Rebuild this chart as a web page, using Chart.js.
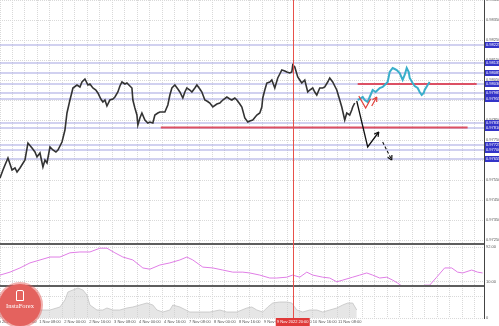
<!DOCTYPE html>
<html><head><meta charset="utf-8">
<script src="https://cdn.jsdelivr.net/npm/chart.js@4.4.0/dist/chart.umd.min.js"></script>
<style>
html,body{margin:0;padding:0;background:#fff;}
#wrap{position:relative;width:499px;height:326px;overflow:hidden;}
#c{position:absolute;left:0;top:0;}
.logo{position:absolute;left:-1px;top:284px;width:42px;height:42px;border-radius:50%;background:#e4625e;box-shadow:0 0 0 2px rgba(228,98,94,0.5);color:#fff;font-family:'Liberation Serif',serif;}
.logo .ic{position:absolute;left:17px;top:6px;width:6px;height:9px;border:1px solid #fff;border-radius:2px 2px 0 0;}
.logo .t{position:absolute;left:0;top:18px;width:42px;text-align:center;font-size:6.5px;letter-spacing:0;}
</style></head><body>
<div id="wrap"><canvas id="c" width="499" height="326"></canvas>
<div class="logo"><div class="ic"></div><div class="t">InstaForex</div></div></div>
<script>
// ---- data (time in trading hours from 31 Oct 00:00, price in CHF) ----
const xTickLabels = ['31 Oct 2022','31 Oct 16:00','1 Nov 08:00','2 Nov 00:00','2 Nov 16:00','3 Nov 08:00','4 Nov 00:00','4 Nov 16:00','7 Nov 08:00','8 Nov 00:00','8 Nov 16:00','9 Nov 08:00','10 Nov 00:00','10 Nov 16:00','11 Nov 08:00'];
const priceHours = [0,1.9,3.2,5.1,7.7,9.6,10.9,12.8,16,17.9,20.5,22.4,23.7,25.6,27.5,28.8,30.1,32,33.9,35.8,37.1,39.7,41.6,42.9,44.8,46.1,46.7,49.3,51.2,52.5,54.4,56.3,57.6,59.5,61.4,62.7,64.6,65.9,67.2,68.5,70.4,72.3,73.6,75.5,76.8,78.1,80,81.3,83.2,84.5,85.1,86.4,87.7,88.3,89.6,90.9,92.8,94.7,96,97.9,99.2,101.1,102.4,105.6,107.5,108.8,110.1,112,113.9,115.2,117.1,118.4,119.7,121.6,122.9,124.8,126.1,128,129.3,131.2,132.5,134.4,136.3,138.9,140.8,142.7,145.3,147.2,148.5,150.4,151.7,153.6,154.9,156.8,158.7,160,161.9,164.5,166.4,167.7,168.3,169.6,170.9,172.8,174.1,176,177.9,179.2,180.5,182.4,183.7,185.6,186.9,187.5,188.8,190.7,192,193.3,195.2,197.1,198.4,200.3,201.6,202.9,204.8,206.7,208,209.9,211.2,213.1,214.4,215.7,217.6,218.9,220.8,222.1,224,225.3,225.9,227.2];
const priceValues = [0.97560,0.97600,0.97625,0.97660,0.97600,0.97610,0.97590,0.97610,0.97650,0.97735,0.97710,0.97690,0.97665,0.97685,0.97615,0.97650,0.97635,0.97715,0.97700,0.97690,0.97700,0.97740,0.97800,0.97885,0.97950,0.97990,0.98010,0.98025,0.98015,0.98040,0.98055,0.98025,0.98030,0.98010,0.98000,0.97985,0.97955,0.97940,0.97950,0.97920,0.97950,0.97955,0.97965,0.97990,0.98020,0.98040,0.98030,0.98035,0.98020,0.98010,0.97950,0.97910,0.97875,0.97825,0.97860,0.97885,0.97850,0.97835,0.97840,0.97835,0.97875,0.97885,0.97890,0.97890,0.97925,0.97975,0.98010,0.98025,0.98005,0.97990,0.97960,0.97990,0.98010,0.98000,0.97990,0.98010,0.98025,0.98005,0.97990,0.97950,0.97945,0.97935,0.97915,0.97930,0.97935,0.97950,0.97965,0.97955,0.97950,0.97960,0.97950,0.97930,0.97915,0.97860,0.97840,0.97845,0.97850,0.97875,0.97885,0.97915,0.97960,0.98000,0.98035,0.98040,0.98050,0.98010,0.98060,0.98080,0.98100,0.98095,0.98090,0.98085,0.98090,0.98125,0.98115,0.98065,0.98050,0.98035,0.98050,0.97990,0.98000,0.98010,0.97990,0.97975,0.98010,0.98010,0.98015,0.98040,0.98060,0.98040,0.98020,0.98000,0.97950,0.97915,0.97850,0.97885,0.97875,0.97900,0.97915,0.97935];
const afterHours = [229.1,230.4,232.3,233.6,235.5,236.8,238.7,240.6,243.2,245.1,246.4,248.3,249.6,251.5,252.8,254.1,256,257.9,259.2,260.5,261.8,262.4,264.3,265.6,267.5,268.8,270.1,271.4,272,273.9,275.2];
const afterValues = [0.97950,0.97955,0.97965,0.97950,0.97940,0.97965,0.98000,0.97990,0.98010,0.98015,0.98025,0.98040,0.98090,0.98110,0.98105,0.98100,0.98085,0.98050,0.98075,0.98110,0.98090,0.98060,0.98035,0.98020,0.98010,0.97990,0.97975,0.97985,0.98000,0.98025,0.98040];
const levelValues = [0.98225,0.98135,0.98085,0.98030,0.97985,0.97955,0.97835,0.97810,0.97725,0.97700,0.97655];
const redLevelValues = [0.98030,0.97812];
const redLevelFrom = [229.1,103.0];
const redLevelTo = [305.3,299.5];
const arrowMainHours = [228.5,235.5,242.6];
const arrowMainValues = [0.97945,0.97715,0.97790];
const arrowDashHours = [245.1,250.9];
const arrowDashValues = [0.97740,0.97650];
const redMarkHours = [229.8,234.2,237.4];
const redMarkValues = [0.97970,0.97910,0.97955];
const redMark2Hours = [238.1,241.3];
const redMark2Values = [0.97920,0.97965];
const indHours = [0,6.4,12.8,19.2,25.6,32,38.4,44.8,51.2,57.6,64,68.5,73.6,78.7,85.1,91.5,96,102.4,108.8,115.2,119.7,123.5,129.9,136.3,142.7,149.1,155.5,160,166.4,172.8,177.3,183.7,187.5,192,196.5,200.3,206.7,211.2,215.7,219.5,225.9,230.4,234.9,238.7,243.2,247.7,251.5,254.7,257.3,264,270.7,272,275.2,279.7,284.8,289.3,293.1,296.3,302.1,305.9,309.1];
const indValues = [26,33,43,55,62,69,69,79,81,81,90,90,79,69,62,43,40,50,55,62,69,62,45,43,38,33,33,31,26,19,19,21,26,21,33,26,21,19,10,14,21,26,31,26,19,21,14,7,0,null,0,2,2,21,43,43,33,31,38,33,31];
const volHours = [0,6.4,12.8,19.2,25.6,32,38.4,41.6,43.5,46.7,49.9,53.1,55.7,57.6,62.1,65.9,68.5,72.3,76.8,81.3,85.1,89.6,94.1,97.9,100.5,104.3,108.8,110.7,115.2,121.6,128,134.4,140.8,145.3,151.7,158.1,161.3,164.5,168.3,171.5,174.7,179.2,183.7,186.9,190.1,193.9,198.4,202.9,206.7,211.2,215.7,219.5,222.7,225.9,228.5];
const volValues = [500,600,800,1000,800,800,1100,1800,2600,2800,3000,2800,2300,1300,800,800,1000,800,800,1000,1100,1300,1500,1300,800,600,800,1300,1100,600,600,600,800,600,600,1000,1100,800,600,1100,1500,1600,1600,1500,800,600,800,800,600,800,1000,1300,1500,1500,800];
const markerHour = 187.5;
const markerLabel = '9 Nov 2022 20:00';
const xMax = 310;

// ---- chart ----
const pts = (xs, ys) => xs.map((x, i) => ({x, y: ys[i]}));
const FONT = {family: 'Liberation Sans', size: 4};
const GRID = '#d9d9d9';

const datasets = [];
datasets.push({data: pts(priceHours, priceValues), borderColor: '#333', borderWidth: 1.6, yAxisID: 'y', order: 2});
datasets.push({data: pts(afterHours, afterValues), borderColor: '#3aaecb', borderWidth: 2, yAxisID: 'y', order: 2});
datasets.push({data: pts(redMarkHours, redMarkValues), borderColor: '#e0403a', borderWidth: 1.2, yAxisID: 'y', order: 1});
datasets.push({data: pts(redMark2Hours, redMark2Values), borderColor: '#e0403a', borderWidth: 1.2, yAxisID: 'y', order: 1, arrow: true});
datasets.push({data: pts(arrowMainHours, arrowMainValues), borderColor: '#111', borderWidth: 1.3, yAxisID: 'y', order: 1, arrow: true});
datasets.push({data: pts(arrowDashHours, arrowDashValues), borderColor: '#111', borderWidth: 1.1, borderDash: [3, 2], yAxisID: 'y', order: 1, arrow: true});
redLevelValues.forEach((v, i) => datasets.push({data: [{x: redLevelFrom[i], y: v}, {x: redLevelTo[i], y: v}], borderColor: '#dc5064', borderWidth: 2, yAxisID: 'y', order: 4}));
levelValues.forEach(v => datasets.push({data: [{x: 0, y: v}, {x: xMax, y: v}], borderColor: '#a4a4e2', borderWidth: 1.2, yAxisID: 'y', order: 5}));
datasets.push({data: pts(indHours, indValues), borderColor: '#e07ee6', borderWidth: 1, yAxisID: 'y2', order: 2, spanGaps: false});
datasets.push({data: pts(volHours, volValues), borderColor: '#c4c4c4', borderWidth: 0.8, backgroundColor: 'rgba(205,205,205,0.5)', fill: 'origin', yAxisID: 'y3', order: 3});

function fitY(w) { return s => { s.width = w; s.paddingTop = 0; s.paddingBottom = 0; }; }

const deco = {
  id: 'deco',
  afterDatasetsDraw(chart) {
    const {ctx, chartArea: a, scales: {x, y, y2}} = chart;
    ctx.save();
    chart.data.datasets.forEach((ds, i) => {
      if (!ds.arrow) return;
      const d = chart.getDatasetMeta(i).data;
      const p1 = d[d.length - 2], p2 = d[d.length - 1];
      const ang = Math.atan2(p2.y - p1.y, p2.x - p1.x);
      ctx.strokeStyle = ds.borderColor; ctx.lineWidth = 1.2; ctx.setLineDash([]);
      ctx.beginPath();
      [-0.5, 0.5].forEach(da => {
        ctx.moveTo(p2.x, p2.y);
        ctx.lineTo(p2.x - 5 * Math.cos(ang + da), p2.y - 5 * Math.sin(ang + da));
      });
      ctx.stroke();
    });
    ctx.strokeStyle = '#5e5e5e'; ctx.lineWidth = 2;
    [y2.top, y2.bottom].forEach(py => { ctx.beginPath(); ctx.moveTo(a.left, py); ctx.lineTo(a.right, py); ctx.stroke(); });
    const mx = Math.round(x.getPixelForValue(markerHour)) + 0.5;
    ctx.strokeStyle = '#e8504a'; ctx.lineWidth = 1;
    ctx.beginPath(); ctx.moveTo(mx, a.top); ctx.lineTo(mx, a.bottom); ctx.stroke();
    ctx.restore();
  },
  afterDraw(chart) {
    const {ctx, chartArea: a, scales: {x, y}} = chart;
    ctx.save();
    ctx.font = '4px "Liberation Sans"';
    ctx.textBaseline = 'middle';
    levelValues.forEach(v => {
      const py = y.getPixelForValue(v);
      ctx.fillStyle = '#3434c8';
      ctx.fillRect(a.right + 1, py - 3, 15, 6);
      ctx.fillStyle = '#fff';
      ctx.fillText(v.toFixed(5), a.right + 2, py);
    });
    const mx = x.getPixelForValue(markerHour);
    ctx.fillStyle = '#e03a3a';
    ctx.fillRect(mx - 17, a.bottom, 34, 8);
    ctx.fillStyle = '#fff';
    ctx.textAlign = 'center';
    ctx.fillText(markerLabel, mx, a.bottom + 4);
    ctx.restore();
  }
};

new Chart(document.getElementById('c'), {
  type: 'line',
  data: {datasets},
  plugins: [deco],
  options: {
    responsive: false,
    animation: false,
    events: [],
    layout: {padding: 0},
    elements: {point: {radius: 0}, line: {tension: 0}},
    plugins: {legend: {display: false}, tooltip: {enabled: false}},
    scales: {
      x: {
        type: 'linear', min: 0, max: xMax,
        ticks: {stepSize: 8, autoSkip: false, maxRotation: 0, includeBounds: false, font: FONT, color: '#555', padding: 1,
          callback: v => (v % 16 === 0 && xTickLabels[v / 16] !== undefined) ? xTickLabels[v / 16] : ''},
        grid: {color: GRID, drawTicks: false},
        border: {display: false, dash: [1, 1]},
        afterFit: s => { s.height = 8; s.paddingLeft = 0; s.paddingRight = 0; }
      },
      y: {
        type: 'linear', position: 'right', stack: 'panes', stackWeight: 244,
        min: 0.97230, max: 0.98450,
        ticks: {stepSize: 0.0005, includeBounds: false, font: FONT, color: '#555', padding: 2, callback: v => v.toFixed(5)},
        grid: {color: GRID, drawTicks: false},
        border: {color: '#444', width: 1, dash: [1, 1]},
        afterFit: fitY(15)
      },
      y2: {
        type: 'linear', position: 'right', stack: 'panes', stackWeight: 42,
        min: 0, max: 100,
        afterBuildTicks: s => { s.ticks = [{value: 92}, {value: 10}]; },
        ticks: {font: FONT, color: '#555', padding: 2, callback: v => v.toFixed(2)},
        grid: {color: GRID, drawTicks: false},
        border: {color: '#444', width: 1, dash: [1, 1]},
        afterFit: fitY(15)
      },
      y3: {
        type: 'linear', position: 'right', stack: 'panes', stackWeight: 32,
        min: 0, max: 3200,
        ticks: {stepSize: 1000, includeBounds: false, font: FONT, color: '#555', padding: 2,
          callback: v => (v === 3000 || v === 0) ? v.toFixed(0) : ''},
        grid: {color: GRID, drawTicks: false},
        border: {color: '#444', width: 1, dash: [1, 1]},
        afterFit: fitY(15)
      }
    }
  }
});
</script>
</body></html>
